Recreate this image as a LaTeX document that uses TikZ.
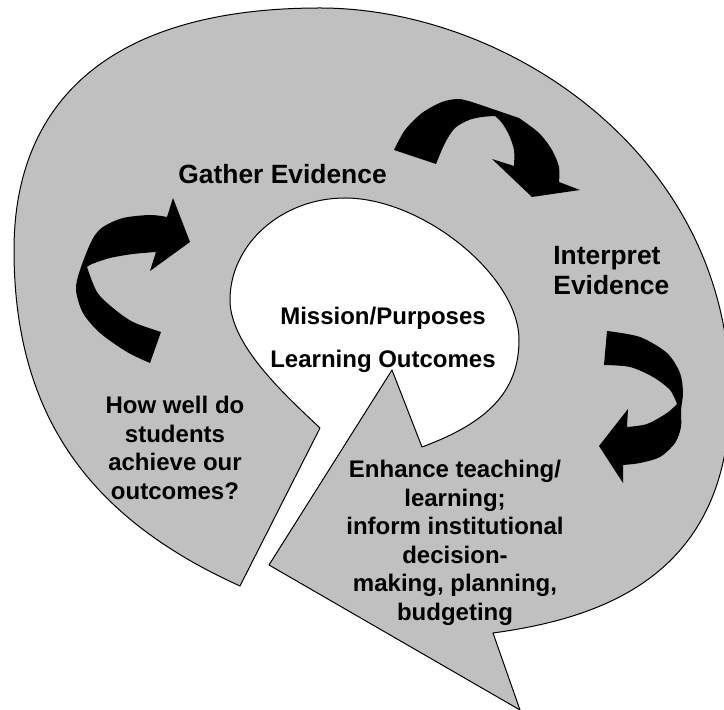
\documentclass[tikz,border=0pt]{standalone}
\usepackage{fontspec}
\setmainfont{Liberation Sans}
\definecolor{ringgray}{RGB}{192,192,192}

\begin{document}
\begin{tikzpicture}[
  x=0.5pt, y=-0.5pt,
  band/.style={fill=ringgray, draw=black, line width=0.5pt, line join=round},
  ribbon/.style={fill=black},
  heading/.style={inner sep=0pt, font=\fontsize{13.2}{15}\selectfont\bfseries},
  core/.style={inner sep=0pt, font=\fontsize{12}{14.25}\selectfont\bfseries},
  note/.style={inner sep=0pt, align=center, font=\fontsize{12}{14.25}\selectfont\bfseries}
]
\useasboundingbox (0,0) rectangle (724,710);
\clip (0,0) rectangle (724,710);

% grey band: outer rim, pointer at the bottom, inner bubble with its own pointer
\draw[band] (240,586) .. controls (94,520) and (14,420) .. (14,250)
  .. controls (14,105) and (106,8) .. (320,8)
  .. controls (507,8) and (730,155) .. (730,395)
  .. controls (730,575) and (603,618) .. (493,633)
  -- (520,710) -- (269,565) -- (392,370) -- (422,447)
  .. controls (487,423) and (519,392) .. (519,340)
  .. controls (519,276) and (423,198) .. (345,198)
  .. controls (282,198) and (230,244) .. (230,300)
  .. controls (230,345) and (285,395) .. (320,428)
  -- cycle;

% curved arrows round the band
\fill[ribbon] plot[smooth] coordinates {(150,363) (127,352) (100,333) (83,313) (76,290) (80,270)
    (92,240) (103,227) (123,218) (150,215) (167,217)}
  -- (173,198) -- (190,242) -- (150,271)
  -- plot[smooth] coordinates {(156,252) (133,254) (110,258) (92,264) (87,267)}
  -- plot[smooth] coordinates {(87,267) (97,292) (113,308) (133,322) (161,332)}
  -- cycle;
\fill[ribbon] plot[smooth] coordinates {(394,150) (405,130) (422,113) (442,102) (459,99) (475,103)}
  -- plot[smooth] coordinates {(519,118) (539,133) (552,150) (559,167) (559,182)}
  -- (580,190) -- (532,197) -- (492,159)
  -- plot[smooth] coordinates {(514,166) (514,150) (509,135) (502,123) (495,116)}
  -- plot[smooth] coordinates {(495,116) (482,117) (469,120) (455,128) (445,143) (436,164)}
  -- cycle;
\fill[ribbon] plot[smooth] coordinates {(607,331) (640,337) (667,353) (680,373) (683,393) (681,410)
    (681,427) (675,443) (660,457) (640,463) (623,465)}
  -- (623,483) -- (599,446) -- (628,409)
  -- plot[smooth] coordinates {(627,427) (647,424) (667,413) (677,404)}
  -- plot[smooth] coordinates {(677,404) (670,390) (653,377) (630,367) (604,365)}
  -- cycle;

% texts
\node[heading, anchor=base west] (gather) at (178,184) {Gather Evidence};
\node[heading, anchor=west, align=left] (interpret) at (553,271) {Interpret\\Evidence};
\node[core, anchor=base] (mission) at (383,325) {Mission/Purposes};
\node[core, anchor=base] (outcomes) at (383,368) {Learning Outcomes};
\node[note] (question) at (175,448) {How well do\\students\\achieve our\\outcomes?};
\node[note] (enhance) at (455,543) {Enhance teaching/\\learning;\\inform institutional\\decision-\\making, planning,\\budgeting};
\end{tikzpicture}
\end{document}
